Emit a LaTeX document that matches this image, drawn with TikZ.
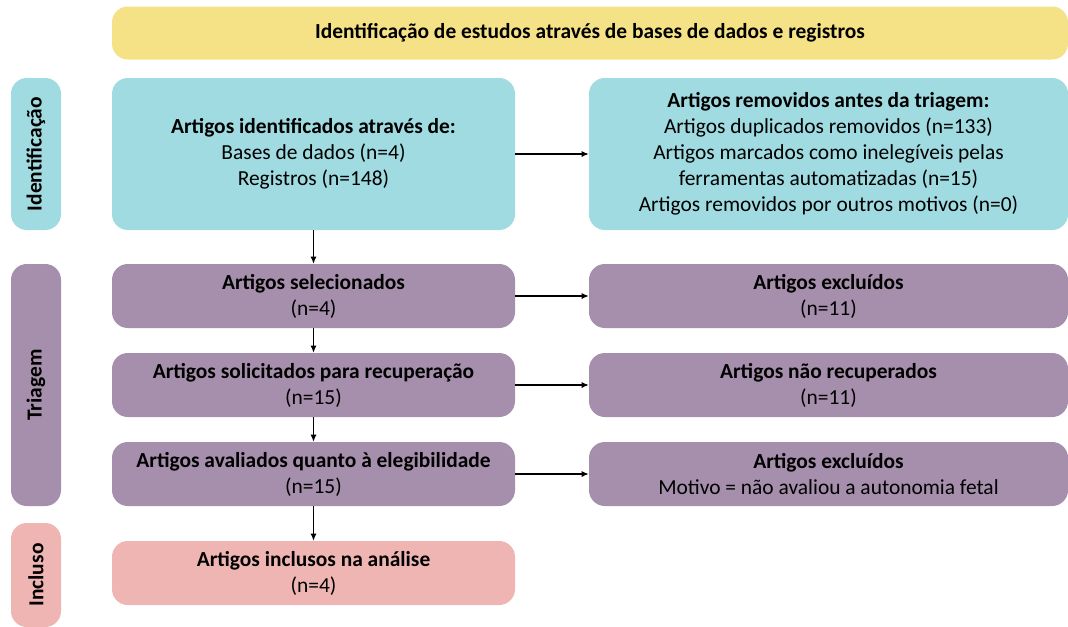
\documentclass[tikz,border=0pt]{standalone}
\usepackage{fontspec}
\setmainfont{Carlito}
\usetikzlibrary{arrows.meta}
\definecolor{amarelo}{RGB}{246,226,134}
\definecolor{ciano}{RGB}{159,219,225}
\definecolor{roxo}{RGB}{166,143,172}
\definecolor{rosa}{RGB}{239,181,179}
\tikzset{
  caixa/.style={rounded corners=9pt, align=center, inner sep=2pt,
    font=\fontsize{12.2}{14.8}\selectfont},
  lado/.style={rounded corners=9pt, minimum width=50, rotate=90,
    font=\fontsize{12.2}{14.8}\selectfont\bfseries},
  seta/.style={-{Latex[length=4pt,width=3.5pt]}, semithick}
}
\begin{document}
\begin{tikzpicture}[x=0.02cm,y=-0.02cm]
%\draw [help lines] (0,0) grid (1068,626);
\useasboundingbox (0,0) rectangle (1068,626);
\begin{scope}
\clip (0,0) rectangle (1068,626);
\node [caixa, fill=amarelo, minimum width=956*0.02cm, minimum height=53*0.02cm] (titulo) at (590,33)
  {\bfseries Identificação de estudos através de bases de dados e registros};
% fases
\node [lado, fill=ciano, minimum width=152*0.02cm, minimum height=50*0.02cm] (ladoId) at (36,154) {Identificação};
\node [lado, fill=roxo, minimum width=242*0.02cm, minimum height=50*0.02cm] (ladoTri) at (36,385) {Triagem};
\node [lado, fill=rosa, minimum width=104*0.02cm, minimum height=50*0.02cm] (ladoInc) at (36,575) {Incluso};
% coluna esquerda
\node [caixa, fill=ciano, minimum width=403*0.02cm, minimum height=152*0.02cm] (ident) at (313.5,154)
  {\textbf{Artigos identificados através de:}\\Bases de dados (n=4)\\Registros (n=148)};
\node [caixa, fill=roxo, minimum width=403*0.02cm, minimum height=64*0.02cm] (selec) at (313.5,296)
  {\textbf{Artigos selecionados}\\(n=4)};
\node [caixa, fill=roxo, minimum width=403*0.02cm, minimum height=64*0.02cm] (solic) at (313.5,385)
  {\textbf{Artigos solicitados para recuperação}\\(n=15)};
\node [caixa, fill=roxo, minimum width=403*0.02cm, minimum height=64*0.02cm] (aval) at (313.5,474)
  {\textbf{Artigos avaliados quanto à elegibilidade}\\(n=15)};
\node [caixa, fill=rosa, minimum width=403*0.02cm, minimum height=64*0.02cm] (incl) at (313.5,573)
  {\textbf{Artigos inclusos na análise}\\(n=4)};
% coluna direita
\node [caixa, fill=ciano, minimum width=479*0.02cm, minimum height=152*0.02cm] (remov) at (828.5,154)
  {\textbf{Artigos removidos antes da triagem:}\\Artigos duplicados removidos (n=133)\\Artigos marcados como inelegíveis pelas\\ferramentas automatizadas (n=15)\\Artigos removidos por outros motivos (n=0)};
\node [caixa, fill=roxo, minimum width=479*0.02cm, minimum height=64*0.02cm] (excl) at (828.5,296)
  {\textbf{Artigos excluídos}\\(n=11)};
\node [caixa, fill=roxo, minimum width=479*0.02cm, minimum height=64*0.02cm] (nrec) at (828.5,385)
  {\textbf{Artigos não recuperados}\\(n=11)};
\node [caixa, fill=roxo, minimum width=479*0.02cm, minimum height=64*0.02cm] (exclb) at (828.5,474)
  {\textbf{Artigos excluídos}\\Motivo = não avaliou a autonomia fetal};
\end{scope}
% setas
\draw [seta] (ident) -- (selec);
\draw [seta] (selec) -- (solic);
\draw [seta] (solic) -- (aval);
\draw [seta] (aval) -- (incl);
\draw [seta] (ident) -- (remov);
\draw [seta] (selec) -- (excl);
\draw [seta] (solic) -- (nrec);
\draw [seta] (aval) -- (exclb);
\end{tikzpicture}
\end{document}
